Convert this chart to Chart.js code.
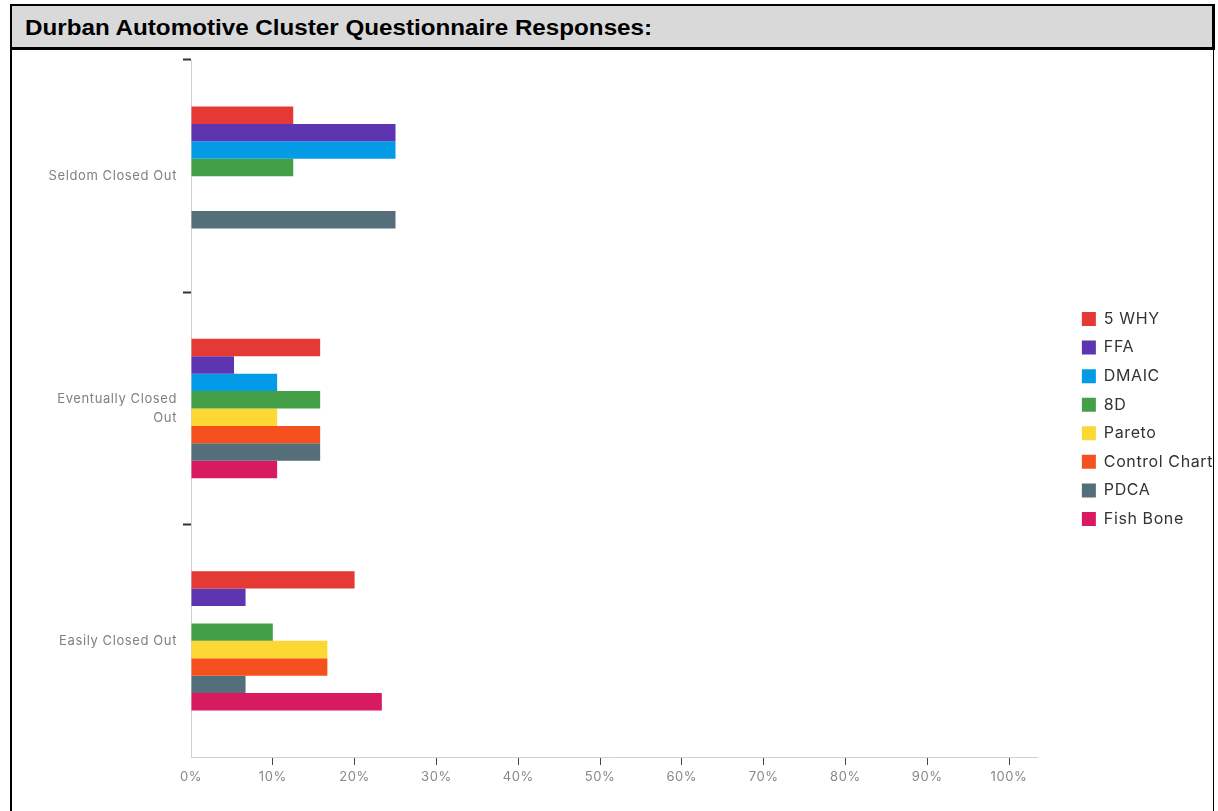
<!DOCTYPE html>
<html>
<head>
<meta charset="utf-8">
<script src="https://cdn.jsdelivr.net/npm/chart.js@4/dist/chart.umd.min.js"></script>
<style>
  html, body { margin: 0; padding: 0; background: #fff; overflow: hidden; width: 1218px; height: 811px; }
  #frame { position: absolute; left: 10px; top: 4px; width: 1201px; height: 900px;
           border-left: 2px solid #000; border-right: 1px solid #000; border-top: 2px solid #000; z-index: 2; pointer-events: none; }
  #title { position: absolute; left: 10px; top: 4px; width: 1200px; height: 41px;
           background: #d9d9d9; border: 2px solid #000; border-right-width: 3px; border-bottom-width: 3px; z-index: 3; overflow: hidden; }
  #title span { position: absolute; left: 13px; top: 0; line-height: 43px; white-space: nowrap;
           font-family: "Liberation Sans", Arial, sans-serif; font-weight: bold; font-size: 22px; color: #000;
           transform-origin: 0 50%; transform: scaleX(1.1); }
  #wrap { position: absolute; left: 12px; top: 50px; width: 1211px; height: 761px; z-index: 1; }
  canvas { display: block; }
</style>
</head>
<body>
<div id="frame"></div>
<div id="title"><span>Durban Automotive Cluster Questionnaire Responses:</span></div>
<div id="wrap"><canvas id="c" width="1211" height="761"></canvas></div>
<script>
// ---- data ----
const categories = ['Seldom Closed Out', ['Eventually Closed', 'Out'], 'Easily Closed Out'];
const seriesNames = ['5 WHY', 'FFA', 'DMAIC', '8D', 'Pareto', 'Control Chart', 'PDCA', 'Fish Bone'];
const fiveWhy      = [12.5, 15.79, 20];
const ffa          = [25, 5.26, 6.67];
const dmaic        = [25, 10.53, 0];
const eightD       = [12.5, 15.79, 10];
const pareto       = [0, 10.53, 16.67];
const controlChart = [0, 15.79, 16.67];
const pdca         = [25, 15.79, 6.67];
const fishBone     = [0, 10.53, 23.33];
const xTickValues  = [0, 10, 20, 30, 40, 50, 60, 70, 80, 90, 100];
const xTickLabels  = ['0%', '10%', '20%', '30%', '40%', '50%', '60%', '70%', '80%', '90%', '100%'];

const seriesValues = [fiveWhy, ffa, dmaic, eightD, pareto, controlChart, pdca, fishBone];
const colors = ['#E53935', '#5E35B1', '#039BE5', '#43A047', '#FDD835', '#F4511E', '#546E7A', '#D81B60'];

// ---- layout helpers ----
const LETTER_SPACING = '0.6px';
const CANVAS_W = 1211;
const AREA_RIGHT = 1025;
const legendFont = { family: 'Inter', size: 16 };
const legendPad = 12.57;
const boxW = 14;
const mctx = document.createElement('canvas').getContext('2d');
mctx.font = legendFont.size + 'px ' + legendFont.family;
try { mctx.letterSpacing = LETTER_SPACING; } catch (e) {}
let maxText = 0;
seriesNames.forEach(n => { maxText = Math.max(maxText, mctx.measureText(n).width); });
const legendWidth = legendPad + boxW + legendFont.size / 2 + maxText + 10;
const spacerWidth = Math.max(0, CANVAS_W - legendWidth - AREA_RIGHT);

const spacingPlugin = {
  id: 'spacing',
  beforeUpdate(chart) { try { chart.ctx.letterSpacing = LETTER_SPACING; } catch (e) {} },
  beforeLayout(chart) { try { chart.ctx.letterSpacing = LETTER_SPACING; } catch (e) {} },
  beforeDraw(chart) { try { chart.ctx.letterSpacing = LETTER_SPACING; } catch (e) {} }
};

const datasets = seriesNames.map((name, i) => ({
  label: name,
  data: seriesValues[i],
  backgroundColor: colors[i],
  borderColor: colors[i],
  borderWidth: 0,
  yAxisID: 'y',
  categoryPercentage: 0.6,
  barPercentage: 1.0
}));

new Chart(document.getElementById('c'), {
  type: 'bar',
  data: { labels: categories, datasets },
  plugins: [spacingPlugin],
  options: {
    indexAxis: 'y',
    responsive: false,
    animation: false,
    devicePixelRatio: 1,
    layout: { padding: { top: 10, bottom: 0, left: 0, right: 0 } },
    plugins: {
      legend: {
        position: 'right',
        align: 'center',
        fullSize: false,
        title: { display: true, text: '', font: { size: 15, lineHeight: 1.2 }, padding: { top: 3, bottom: 0 } },
        labels: {
          boxWidth: boxW, boxHeight: 14, padding: legendPad,
          color: '#333', font: legendFont
        }
      },
      tooltip: { enabled: false }
    },
    scales: {
      x: {
        type: 'linear',
        min: 0,
        max: 103.42,
        afterBuildTicks: s => { s.ticks = xTickValues.map(v => ({ value: v })); },
        afterFit: s => { s.height = 54; },
        grid: {
          drawOnChartArea: false,
          drawTicks: true,
          tickLength: 8,
          tickWidth: 1,
          tickColor: ctx => ctx.index === 0 ? 'rgba(0,0,0,0)' : '#444'
        },
        border: { display: true, color: '#d0d0d0', width: 1 },
        ticks: {
          padding: 4,
          color: '#888',
          font: { family: 'Inter', size: 13 },
          maxRotation: 0,
          autoSkip: false,
          callback: (v, i) => xTickLabels[i]
        }
      },
      y: {
        type: 'category',
        offset: true,
        afterFit: s => { s.width = 179; s.paddingTop = 0; s.paddingBottom = 0; },
        grid: {
          offset: true,
          drawOnChartArea: false,
          drawTicks: true,
          tickLength: 8,
          tickWidth: 2,
          tickColor: ctx => (ctx.type === 'tick' ? '#333' : 'rgba(0,0,0,0)')
        },
        border: { display: true, color: '#d0d0d0', width: 1 },
        ticks: {
          padding: 6,
          color: '#808080',
          font: { family: 'Inter', size: 13, lineHeight: 1.5 }
        }
      },
      y2: {
        type: 'linear',
        position: 'right',
        display: true,
        min: 0, max: 1,
        grid: { display: false, drawTicks: false },
        border: { display: false },
        ticks: { display: false },
        afterFit: s => { s.width = spacerWidth; s.paddingTop = 0; s.paddingBottom = 0; }
      }
    }
  }
});
</script>
</body>
</html>
